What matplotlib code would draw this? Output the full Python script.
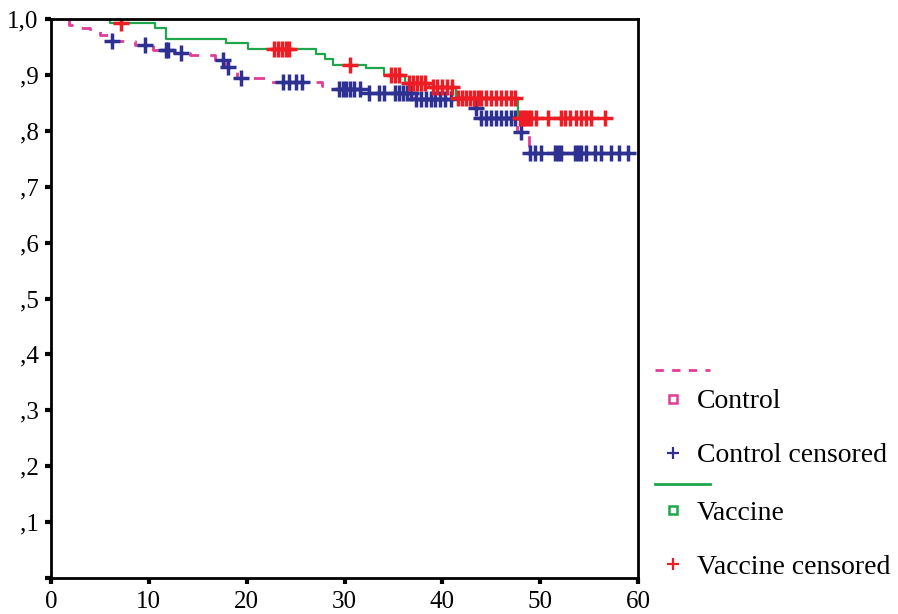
import numpy as np
import matplotlib.pyplot as plt
from matplotlib.lines import Line2D

plt.rcParams['font.family'] = ['Liberation Serif', 'DejaVu Serif']

# Kaplan-Meier steps (months, cumulative survival)
ctrl_start = 1.7
ctrl_event_t = [1.8, 2.6, 4.0, 5.0, 5.8, 8.6, 10.4, 12.6, 14.2, 16.8, 17.8, 18.3,
                19.0, 22.0, 27.7, 28.4, 32.2, 37.0, 43.2, 43.8, 47.6, 48.9]
ctrl_surv = [0.990, 0.984, 0.978, 0.971, 0.960, 0.953, 0.945, 0.939, 0.935, 0.927,
             0.915, 0.905, 0.894, 0.888, 0.880, 0.874, 0.868, 0.857, 0.840, 0.823,
             0.797, 0.760]
ctrl_cens_t = [6.2, 9.6, 11.8, 12.0, 13.3, 17.6, 18.1, 19.4, 23.7, 24.3, 25.0, 25.7,
               29.4, 29.8, 30.2, 30.6, 31.0, 31.6, 32.5, 33.5, 34.0,
               35.2, 35.6, 36.0, 36.4, 36.8, 37.3, 37.8, 38.3, 38.8, 39.3, 39.8,
               40.3, 40.9, 43.4, 44.0, 44.5, 45.0, 45.5, 46.0, 46.5, 47.0, 47.4,
               48.0, 49.0, 49.5, 50.1, 51.5, 51.8, 52.1, 53.6, 53.9, 54.2, 54.7,
               55.6, 56.2, 57.2, 58.1, 59.0]

vac_start = 1.8
vac_event_t = [6.0, 10.6, 11.8, 17.9, 20.1, 27.1, 28.0, 28.8, 32.2, 34.0, 36.2,
               38.6, 41.4, 47.7]
vac_surv = [0.993, 0.984, 0.965, 0.957, 0.946, 0.937, 0.928, 0.917, 0.912, 0.900,
            0.886, 0.879, 0.859, 0.823]
vac_cens_t = [7.2, 22.8, 23.2, 23.6, 24.0, 24.3, 30.6, 34.8, 35.2, 35.6, 36.6,
              37.0, 37.4, 37.8, 38.2, 39.0, 39.5, 40.0, 40.5, 41.0, 41.6, 42.0,
              42.4, 42.8, 43.2, 43.6, 44.0, 44.5, 45.0, 45.5, 46.0, 46.5, 47.0,
              47.4, 47.9, 48.2, 48.5, 48.8, 49.1, 49.6, 50.8, 52.1, 52.5, 53.0,
              53.7, 54.2, 54.7, 55.2, 56.6]

y_ticks = [0, .1, .2, .3, .4, .5, .6, .7, .8, .9, 1.0]
y_labels = ['', ',1', ',2', ',3', ',4', ',5', ',6', ',7', ',8', ',9', '1,0']
x_ticks = [0, 10, 20, 30, 40, 50, 60]

PINK = '#e23c96'
BLUE = '#2e3192'
GREEN = '#1fa54a'
RED = '#ee1c25'


def km_xy(start, times, surv, end):
    x = [start] + list(times) + [end]
    y = [1.0] + list(surv) + [surv[-1]]
    return x, y


def surv_at(t, times, surv):
    i = np.searchsorted(times, t, side='right') - 1
    return surv[i] if i >= 0 else 1.0


fig = plt.figure(figsize=(8.98, 6.14), dpi=100)
ax = fig.add_axes([51 / 898, 36 / 614, 587 / 898, 559 / 614])

cx, cy = km_xy(ctrl_start, ctrl_event_t, ctrl_surv, max(ctrl_cens_t))
ax.step(cx, cy, where='post', color=PINK, lw=2, linestyle=(0, (4, 4)))
ax.plot(ctrl_cens_t, [surv_at(t, ctrl_event_t, ctrl_surv) for t in ctrl_cens_t],
        '+', color=BLUE, ms=11, mew=2.5)

vx, vy = km_xy(vac_start, vac_event_t, vac_surv, max(vac_cens_t))
ax.step(vx, vy, where='post', color=GREEN, lw=1.6)
ax.plot(vac_cens_t, [surv_at(t, vac_event_t, vac_surv) for t in vac_cens_t],
        '+', color=RED, ms=11, mew=2.5)

ax.set_xlim(0, 60)
ax.set_ylim(0, 1.0)
ax.set_xticks(x_ticks)
ax.set_yticks(y_ticks)
ax.set_yticklabels(y_labels)
ax.tick_params(direction='out', length=4, width=3, labelsize=18, pad=5)
for s in ax.spines.values():
    s.set_linewidth(2)

# legend drawn by hand, SPSS style (line sample on its own row)
def px(x, y):
    return x / 898, 1 - y / 614

for y, col, ls in [(370, PINK, (0, (3, 3))), (484, GREEN, '-')]:
    (x0, yy), (x1, _) = px(655, y), px(710, y)
    fig.add_artist(Line2D([x0, x1], [yy, yy], color=col, lw=2, linestyle=ls))

rows = [(402, 's', PINK, 'Control'), (456, '+', BLUE, 'Control censored'),
        (513, 's', GREEN, 'Vaccine'), (567, '+', RED, 'Vaccine censored')]
for y, m, col, lab in rows:
    mx, my = px(673, y - 3)
    if m == 's':
        fig.add_artist(Line2D([mx], [my], marker='s', ms=6, mfc='white', mec=col, mew=1.8))
    else:
        fig.add_artist(Line2D([mx], [my], marker='+', ms=9, color=col, mew=1.6))
    tx, ty = px(697, y)
    fig.text(tx, ty, lab, fontsize=20, va='center', ha='left')

fig.savefig('out.png', dpi=100)
